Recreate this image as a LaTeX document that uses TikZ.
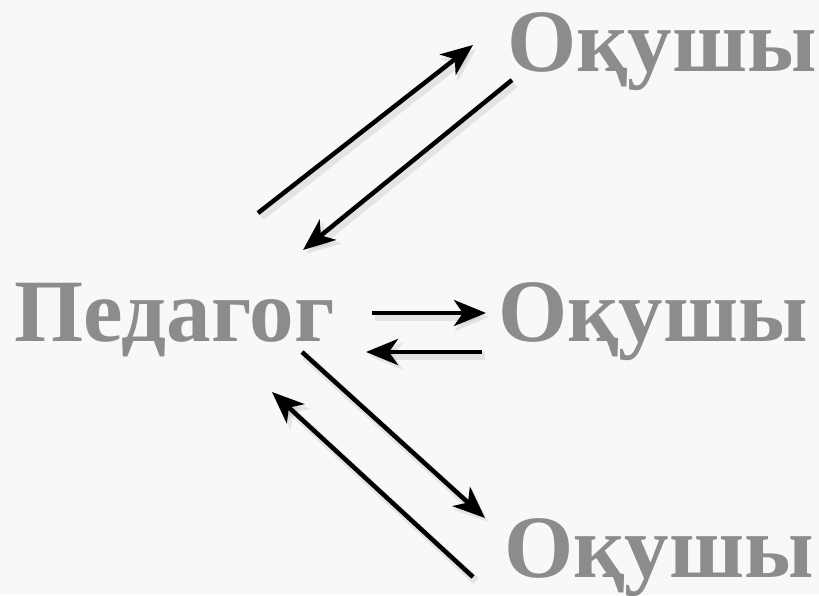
\documentclass[tikz,border=0pt]{standalone}
\usepackage{fontspec}
\setmainfont{Liberation Serif}
\usetikzlibrary{arrows.meta}
\definecolor{txtgray}{HTML}{8C8C8C}
\definecolor{bggray}{HTML}{F8F8F8}
\tikzset{
  word/.style={font=\fontsize{89}{100}\selectfont\bfseries, text=txtgray, inner sep=0pt, anchor=base west},
  arr/.style={line width=4.5pt, -{Stealth[length=32pt, width=26pt, inset=9pt]}},
  arrshadow/.style={line width=8pt, black, opacity=0.08, -{Stealth[length=34pt, width=28pt, inset=9pt]}},
}
\begin{document}
\begin{tikzpicture}[x=1pt,y=1pt]
\useasboundingbox (0,0) rectangle (819,595);
\fill[bggray] (0,0) rectangle (819,595);
% words
\node[word] (top) at (507,523) {Оқушы};
\node[word] (ped) at (14,253) {Педагог};
\node[word] (mid) at (498,253) {Оқушы};
\node[word] (bot) at (504,18) {Оқушы};
% arrow end points
\coordinate (a1s) at (258,382);
\coordinate (a1e) at (473,550);
\coordinate (a2s) at (512,515);
\coordinate (a2e) at (303,345);
\coordinate (a3s) at (372,282);
\coordinate (a3e) at (486,282);
\coordinate (a4s) at (482,243);
\coordinate (a4e) at (366,243);
\coordinate (a5s) at (302,243);
\coordinate (a5e) at (485,77);
\coordinate (a6s) at (473,18);
\coordinate (a6e) at (272,203);
% arrow shadows
\foreach \s/\e in {a1s/a1e,a2s/a2e,a3s/a3e,a4s/a4e,a5s/a5e,a6s/a6e}{
  \draw[arrshadow] ([shift={(3,-4)}]\s) -- ([shift={(3,-4)}]\e);
}
% arrows
\draw[arr] (a1s) -- (a1e);
\draw[arr] (a2s) -- (a2e);
\draw[arr] (a3s) -- (a3e);
\draw[arr] (a4s) -- (a4e);
\draw[arr] (a5s) -- (a5e);
\draw[arr] (a6s) -- (a6e);
\end{tikzpicture}
\end{document}
